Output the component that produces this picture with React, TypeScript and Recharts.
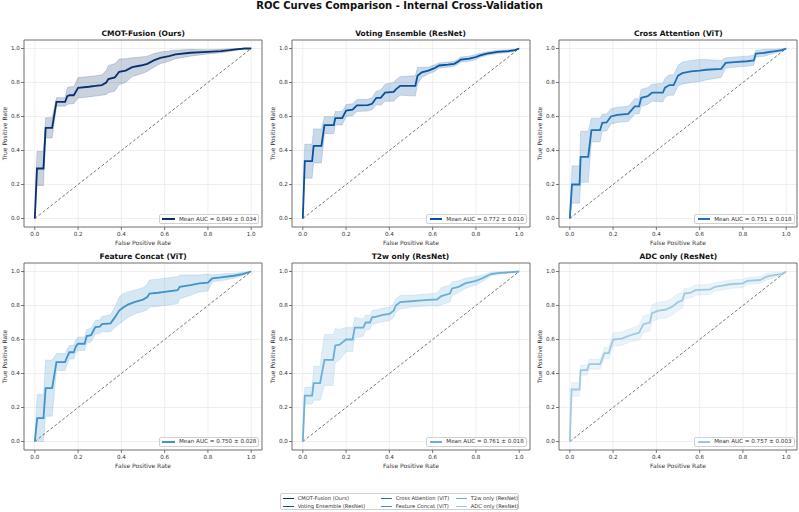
import React from 'react';
import {
  ComposedChart,
  Area,
  Line,
  XAxis,
  YAxis,
  CartesianGrid,
  ReferenceLine,
  ReferenceArea,
} from 'recharts';

// Each point: [fpr, mean tpr, std of tpr] along the averaged ROC curve
type RocPoint = [number, number, number];

const cmotCurve: RocPoint[] = [
  [0, 0, 0], [0.01, 0.294, 0.1], [0.04, 0.294, 0.1], [0.05, 0.533, 0.06], [0.08, 0.533, 0.06],
  [0.1, 0.686, 0.025], [0.14, 0.686, 0.025], [0.15, 0.72, 0.05], [0.16, 0.725, 0.05], [0.18, 0.725, 0.05],
  [0.2, 0.769, 0.06], [0.25, 0.775, 0.06], [0.28, 0.78, 0.06], [0.31, 0.785, 0.06], [0.33, 0.8, 0.07],
  [0.34, 0.82, 0.08], [0.37, 0.83, 0.08], [0.39, 0.863, 0.075], [0.42, 0.87, 0.07], [0.45, 0.89, 0.055],
  [0.49, 0.9, 0.05], [0.52, 0.91, 0.045], [0.55, 0.93, 0.04], [0.58, 0.945, 0.035], [0.62, 0.955, 0.03],
  [0.65, 0.965, 0.025], [0.72, 0.975, 0.02], [0.8, 0.98, 0.012], [0.86, 0.985, 0.01], [0.9, 0.99, 0.008],
  [0.93, 0.995, 0.005], [0.97, 1.0, 0], [1.0, 1.0, 0],
];

const votingCurve: RocPoint[] = [
  [0, 0, 0], [0.009, 0.337, 0.1], [0.043, 0.337, 0.1], [0.05, 0.427, 0.1], [0.086, 0.427, 0.1],
  [0.1, 0.549, 0.05], [0.143, 0.549, 0.05], [0.15, 0.59, 0.04], [0.182, 0.59, 0.04], [0.2, 0.635, 0.035],
  [0.23, 0.64, 0.035], [0.25, 0.665, 0.035], [0.3, 0.667, 0.035], [0.32, 0.675, 0.035], [0.34, 0.71, 0.04],
  [0.36, 0.71, 0.045], [0.38, 0.74, 0.05], [0.42, 0.745, 0.055], [0.43, 0.76, 0.055], [0.45, 0.78, 0.055],
  [0.52, 0.78, 0.06], [0.53, 0.84, 0.05], [0.55, 0.86, 0.03], [0.58, 0.87, 0.02], [0.6, 0.88, 0.02],
  [0.61, 0.885, 0.02], [0.63, 0.9, 0.015], [0.67, 0.905, 0.015], [0.7, 0.91, 0.015], [0.72, 0.925, 0.015],
  [0.73, 0.935, 0.015], [0.77, 0.94, 0.015], [0.8, 0.95, 0.015], [0.82, 0.96, 0.012], [0.85, 0.97, 0.01],
  [0.9, 0.98, 0.01], [0.95, 0.985, 0.008], [0.98, 0.99, 0.005], [1.0, 1.0, 0],
];

const crossAttnCurve: RocPoint[] = [
  [0, 0, 0], [0.01, 0.2, 0.11], [0.045, 0.2, 0.11], [0.05, 0.363, 0.15], [0.085, 0.363, 0.15],
  [0.1, 0.52, 0.07], [0.14, 0.52, 0.07], [0.15, 0.563, 0.05], [0.17, 0.565, 0.05], [0.19, 0.6, 0.045],
  [0.22, 0.61, 0.045], [0.27, 0.615, 0.045], [0.28, 0.63, 0.045], [0.3, 0.66, 0.045], [0.32, 0.66, 0.045],
  [0.33, 0.71, 0.05], [0.36, 0.72, 0.05], [0.38, 0.74, 0.05], [0.43, 0.74, 0.055], [0.44, 0.77, 0.055],
  [0.46, 0.785, 0.06], [0.48, 0.785, 0.06], [0.5, 0.84, 0.06], [0.52, 0.855, 0.065], [0.56, 0.865, 0.065],
  [0.6, 0.87, 0.065], [0.63, 0.875, 0.06], [0.7, 0.88, 0.05], [0.72, 0.915, 0.03], [0.76, 0.92, 0.03],
  [0.82, 0.925, 0.03], [0.85, 0.93, 0.03], [0.86, 0.97, 0.02], [0.9, 0.975, 0.02], [0.95, 0.985, 0.012],
  [0.98, 0.99, 0.008], [1.0, 1.0, 0],
];

const concatCurve: RocPoint[] = [
  [0, 0, 0], [0.011, 0.137, 0.14], [0.04, 0.137, 0.14], [0.05, 0.314, 0.165], [0.08, 0.314, 0.165],
  [0.1, 0.467, 0.05], [0.14, 0.467, 0.05], [0.15, 0.5, 0.045], [0.16, 0.525, 0.04], [0.18, 0.525, 0.04],
  [0.19, 0.56, 0.04], [0.2, 0.575, 0.04], [0.23, 0.575, 0.04], [0.24, 0.62, 0.04], [0.26, 0.625, 0.04],
  [0.27, 0.65, 0.04], [0.28, 0.673, 0.04], [0.3, 0.675, 0.04], [0.31, 0.69, 0.045], [0.35, 0.695, 0.05],
  [0.37, 0.73, 0.06], [0.39, 0.77, 0.08], [0.41, 0.79, 0.08], [0.43, 0.805, 0.075], [0.46, 0.82, 0.07],
  [0.5, 0.835, 0.07], [0.52, 0.85, 0.075], [0.53, 0.87, 0.08], [0.57, 0.875, 0.08], [0.6, 0.88, 0.08],
  [0.66, 0.89, 0.08], [0.67, 0.91, 0.07], [0.72, 0.92, 0.06], [0.76, 0.93, 0.05], [0.8, 0.935, 0.05],
  [0.82, 0.96, 0.02], [0.86, 0.965, 0.02], [0.92, 0.975, 0.015], [0.96, 0.985, 0.01], [1.0, 1.0, 0],
];

const t2wCurve: RocPoint[] = [
  [0, 0, 0], [0.009, 0.27, 0.05], [0.043, 0.27, 0.05], [0.05, 0.343, 0.1], [0.08, 0.343, 0.1],
  [0.085, 0.38, 0.12], [0.1, 0.48, 0.15], [0.14, 0.48, 0.15], [0.15, 0.565, 0.1], [0.17, 0.57, 0.09],
  [0.2, 0.6, 0.07], [0.23, 0.6, 0.07], [0.24, 0.67, 0.06], [0.28, 0.67, 0.05], [0.29, 0.7, 0.045],
  [0.31, 0.7, 0.04], [0.32, 0.73, 0.04], [0.34, 0.735, 0.04], [0.37, 0.745, 0.04], [0.4, 0.75, 0.04],
  [0.42, 0.77, 0.04], [0.43, 0.8, 0.04], [0.45, 0.82, 0.04], [0.5, 0.825, 0.035], [0.55, 0.83, 0.035],
  [0.6, 0.835, 0.035], [0.62, 0.835, 0.04], [0.64, 0.855, 0.05], [0.68, 0.87, 0.05], [0.69, 0.9, 0.04],
  [0.72, 0.91, 0.035], [0.75, 0.93, 0.03], [0.8, 0.945, 0.025], [0.83, 0.96, 0.02], [0.87, 0.985, 0.01],
  [0.9, 0.99, 0.008], [0.95, 0.995, 0.005], [1.0, 1.0, 0],
];

const adcCurve: RocPoint[] = [
  [0, 0, 0], [0.008, 0.306, 0.04], [0.045, 0.306, 0.04], [0.05, 0.42, 0.03], [0.08, 0.42, 0.03],
  [0.09, 0.455, 0.03], [0.14, 0.455, 0.03], [0.16, 0.52, 0.035], [0.18, 0.52, 0.035], [0.2, 0.6, 0.04],
  [0.24, 0.605, 0.04], [0.26, 0.615, 0.04], [0.28, 0.625, 0.04], [0.32, 0.64, 0.045], [0.34, 0.69, 0.05],
  [0.37, 0.7, 0.05], [0.38, 0.755, 0.05], [0.41, 0.77, 0.05], [0.44, 0.775, 0.05], [0.47, 0.79, 0.05],
  [0.5, 0.82, 0.05], [0.52, 0.83, 0.045], [0.53, 0.87, 0.03], [0.56, 0.875, 0.03], [0.58, 0.89, 0.03],
  [0.65, 0.895, 0.03], [0.67, 0.91, 0.025], [0.7, 0.915, 0.025], [0.74, 0.925, 0.025], [0.8, 0.93, 0.025],
  [0.82, 0.945, 0.02], [0.88, 0.95, 0.02], [0.91, 0.97, 0.02], [0.95, 0.98, 0.015], [0.98, 0.985, 0.01],
  [1.0, 1.0, 0],
];

const modelNames = [
  'CMOT-Fusion (Ours)',
  'Voting Ensemble (ResNet)',
  'Cross Attention (ViT)',
  'Feature Concat (ViT)',
  'T2w only (ResNet)',
  'ADC only (ResNet)',
];
const modelColors = ['#08306b', '#08519c', '#2171b5', '#4292c6', '#6baed6', '#9ecae1'];
const meanAuc = [0.849, 0.772, 0.751, 0.75, 0.761, 0.757];
const stdAuc = [0.034, 0.01, 0.018, 0.028, 0.018, 0.003];
const curves = [cmotCurve, votingCurve, crossAttnCurve, concatCurve, t2wCurve, adcCurve];
const axisTicks = [0, 0.2, 0.4, 0.6, 0.8, 1.0];

const FIG_W = 799;
const FIG_H = 512;
const PLOT_W = 238;
const PLOT_H = 187;
const Y_AXIS_W = 24;
const X_AXIS_H = 26;
const M_TOP = 2;
const M_RIGHT = 2;
const colLeft = [24.2, 291.5, 559.3];
const rowTop = [39.8, 262.5];
const FONT = '"DejaVu Sans", sans-serif';
const TEXT = '#333';

const renderXLabel = (props: any) => {
  const vb = props.viewBox;
  if (!vb) return null;
  return (
    <text x={vb.x + vb.width / 2} y={vb.y + 16} dy="0.35em" textAnchor="middle" fontSize={6} fill={TEXT}>
      False Positive Rate
    </text>
  );
};

const renderYLabel = (props: any) => {
  const vb = props.viewBox;
  if (!vb) return null;
  const x = vb.x + vb.width - 19;
  const y = vb.y + vb.height / 2;
  return (
    <text x={x} y={y} dy="0.35em" textAnchor="middle" fontSize={6} fill={TEXT} transform={`rotate(-90 ${x} ${y})`}>
      True Positive Rate
    </text>
  );
};

const RocPanel = ({ idx }: { idx: number }) => {
  const col = idx % 3;
  const row = Math.floor(idx / 3);
  const left = colLeft[col];
  const top = rowTop[row];
  const color = modelColors[idx];
  const data = curves[idx].map(([fpr, tpr, sd]) => ({
    fpr,
    tpr,
    band: [Math.max(0, tpr - sd), Math.min(1, tpr + sd)],
  }));

  return (
    <>
      <div
        style={{
          position: 'absolute',
          left,
          top: top - 11,
          width: PLOT_W,
          textAlign: 'center',
          fontSize: 7.5,
          fontWeight: 'bold',
          lineHeight: '10px',
          color: '#111',
        }}
      >
        {modelNames[idx]}
      </div>
      <div style={{ position: 'absolute', left: left - Y_AXIS_W, top: top - M_TOP }}>
        <ComposedChart
          width={Y_AXIS_W + PLOT_W + M_RIGHT}
          height={M_TOP + PLOT_H + X_AXIS_H}
          data={data}
          margin={{ top: M_TOP, right: M_RIGHT, left: 0, bottom: 0 }}
        >
          <CartesianGrid stroke="#ebebeb" strokeWidth={0.8} />
          <XAxis
            type="number"
            dataKey="fpr"
            domain={[-0.05, 1.05]}
            ticks={axisTicks}
            tickFormatter={(v: number) => v.toFixed(1)}
            allowDataOverflow
            axisLine={false}
            tickLine={{ stroke: '#555', strokeWidth: 0.8 }}
            tickSize={3}
            tickMargin={2}
            tick={{ fontSize: 5.6, fill: TEXT }}
            height={X_AXIS_H}
            label={renderXLabel}
          />
          <YAxis
            type="number"
            domain={[-0.05, 1.05]}
            ticks={axisTicks}
            tickFormatter={(v: number) => v.toFixed(1)}
            allowDataOverflow
            axisLine={false}
            tickLine={{ stroke: '#555', strokeWidth: 0.8 }}
            tickSize={3}
            tickMargin={1.2}
            tick={{ fontSize: 5.6, fill: TEXT }}
            width={Y_AXIS_W}
            label={renderYLabel}
          />
          <Area
            dataKey="band"
            type="linear"
            fill={color}
            fillOpacity={0.22}
            stroke={color}
            strokeOpacity={0.22}
            strokeWidth={0.8}
            isAnimationActive={false}
          />
          <ReferenceLine
            segment={[{ x: 0, y: 0 }, { x: 1, y: 1 }]}
            stroke="#555"
            strokeWidth={0.8}
            strokeDasharray="3 2"
          />
          <Line
            dataKey="tpr"
            type="linear"
            stroke={color}
            strokeWidth={1.8}
            dot={false}
            activeDot={false}
            isAnimationActive={false}
          />
          <ReferenceArea x1={-0.05} x2={1.05} y1={-0.05} y2={1.05} fill="none" stroke="#666" strokeWidth={0.9} />
        </ComposedChart>
      </div>
      <div
        style={{
          position: 'absolute',
          right: FIG_W - (left + PLOT_W - 2.8),
          bottom: FIG_H - (top + PLOT_H - 2.8),
          height: 10,
          boxSizing: 'border-box',
          display: 'flex',
          alignItems: 'center',
          padding: '0 2px 0 2.5px',
          border: '0.8px solid #d0d0d0',
          borderRadius: 2,
          background: 'rgba(255,255,255,0.85)',
        }}
      >
        <span style={{ width: 12.3, height: 1.8, background: color, marginRight: 4.3 }} />
        <span style={{ fontSize: 5.6, color: TEXT, whiteSpace: 'nowrap', lineHeight: '9px' }}>
          {`Mean AUC = ${meanAuc[idx].toFixed(3)} ± ${stdAuc[idx].toFixed(3)}`}
        </span>
      </div>
    </>
  );
};

// figure-level legend: three columns of two entries
const legendCols = [0, 98, 173];

const FigureLegend = () => (
  <div
    style={{
      position: 'absolute',
      left: 280,
      top: 493,
      width: 239,
      height: 17,
      boxSizing: 'border-box',
      border: '0.8px solid #d0d0d0',
      borderRadius: 2,
      background: '#fff',
    }}
  >
    {modelNames.map((name, i) => (
      <div
        key={name}
        style={{
          position: 'absolute',
          left: legendCols[Math.floor(i / 2)] + 1.7,
          top: (i % 2) * 8 + 1,
          height: 7,
          display: 'flex',
          alignItems: 'center',
        }}
      >
        <span style={{ width: 11, height: 1.8, background: modelColors[i], marginRight: 4 }} />
        <span style={{ fontSize: 5.2, color: TEXT, whiteSpace: 'nowrap', lineHeight: '7px' }}>{name}</span>
      </div>
    ))}
  </div>
);

export default function App() {
  return (
    <div
      style={{
        position: 'absolute',
        left: 0,
        top: 0,
        width: FIG_W,
        height: FIG_H,
        overflow: 'hidden',
        background: '#fff',
        fontFamily: FONT,
      }}
    >
      <div
        style={{
          position: 'absolute',
          left: 0,
          top: 0,
          width: FIG_W,
          textAlign: 'center',
          fontSize: 10,
          fontWeight: 'bold',
          lineHeight: '11px',
          color: '#111',
        }}
      >
        ROC Curves Comparison - Internal Cross-Validation
      </div>
      {curves.map((_, i) => (
        <RocPanel key={i} idx={i} />
      ))}
      <FigureLegend />
    </div>
  );
}
